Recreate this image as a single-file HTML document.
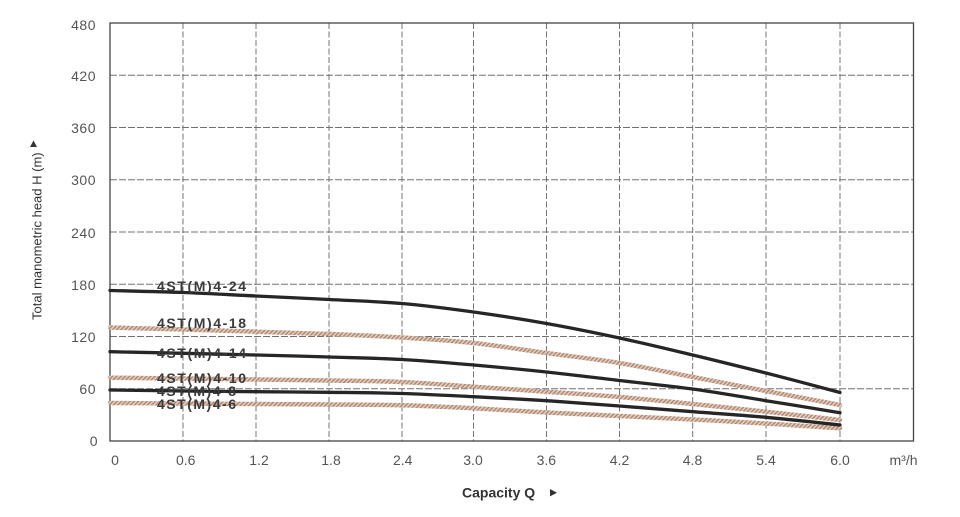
<!DOCTYPE html>
<html>
<head>
<meta charset="utf-8">
<style>
  html, body { margin:0; padding:0; background:#ffffff; }
  body { width:960px; height:517px; overflow:hidden; }
  svg { display:block; }
  text { font-family: "Liberation Sans", Arial, sans-serif; }
</style>
</head>
<body>
<svg width="960" height="517" viewBox="0 0 960 517" xmlns="http://www.w3.org/2000/svg">
  <defs>
    <pattern id="hatch" width="3" height="3" patternUnits="userSpaceOnUse" patternTransform="rotate(45)">
      <rect width="3" height="3" fill="#e4cbba"/>
      <rect width="1.3" height="3" fill="#a8836f"/>
    </pattern>
  </defs>
  <rect width="960" height="517" fill="#ffffff"/>

  <!-- horizontal dashed grid -->
  <g stroke="#707070" stroke-width="0.9" stroke-dasharray="7 2" fill="none">
    <line x1="110" y1="75.25" x2="913.5" y2="75.25"/>
    <line x1="110" y1="127.5" x2="913.5" y2="127.5"/>
    <line x1="110" y1="179.75" x2="913.5" y2="179.75"/>
    <line x1="110" y1="232" x2="913.5" y2="232"/>
    <line x1="110" y1="284.25" x2="913.5" y2="284.25"/>
    <line x1="110" y1="336.5" x2="913.5" y2="336.5"/>
    <line x1="110" y1="388.75" x2="913.5" y2="388.75"/>
  </g>
  <!-- vertical dashed grid -->
  <g stroke="#666" stroke-width="0.9" stroke-dasharray="6 2.5" fill="none">
    <line x1="183" y1="23" x2="183" y2="441"/>
    <line x1="256" y1="23" x2="256" y2="441"/>
    <line x1="329" y1="23" x2="329" y2="441"/>
    <line x1="402" y1="23" x2="402" y2="441"/>
    <line x1="473.5" y1="23" x2="473.5" y2="441"/>
    <line x1="546.5" y1="23" x2="546.5" y2="441"/>
    <line x1="619.5" y1="23" x2="619.5" y2="441"/>
    <line x1="692.7" y1="23" x2="692.7" y2="441"/>
    <line x1="766" y1="23" x2="766" y2="441"/>
    <line x1="840" y1="23" x2="840" y2="441"/>
  </g>
  <!-- frame -->
  <rect x="110" y="23" width="803.5" height="418" fill="none" stroke="#444" stroke-width="1.3"/>

  <!-- curves: tan (hatched) -->
  <g fill="none" stroke="url(#hatch)" stroke-width="4.5" stroke-linejoin="round" stroke-linecap="round">
    <!-- 4-18 -->
    <path d="M110,327.5 C122.17,327.83 158.67,328.8 183,329.5 S231.67,330.95 256,331.7 S304.67,333.03 329,334 S377.92,336 402,337.5 S449.42,340.42 473.5,343 S522.17,349.67 546.5,353 S595.13,359 619.5,363 S668.28,372.33 692.7,377 S741.45,386.33 766,391 S827.67,402.67 840,405"/>
    <!-- 4-10 -->
    <path d="M110,377.7 C122.17,377.83 158.67,378.2 183,378.5 S231.67,379.17 256,379.5 S304.67,380.08 329,380.5 S377.92,380.97 402,382 S449.42,385.08 473.5,386.7 S522.17,389.98 546.5,391.7 S595.13,394.95 619.5,397 S668.28,401.55 692.7,404 S741.45,409.03 766,411.7 S827.67,418.62 840,420"/>
    <!-- 4-6 -->
    <path d="M110,403 C122.17,403.08 158.67,403.33 183,403.5 S231.67,403.83 256,404 S304.67,404.28 329,404.5 S377.92,404.67 402,405.3 S449.42,407.1 473.5,408.3 S522.17,411.22 546.5,412.5 S595.13,414.83 619.5,416 S668.28,418.25 692.7,419.5 S741.45,422.03 766,423.5 S827.67,427.5 840,428.3"/>
  </g>
  <!-- curves: black -->
  <g fill="none" stroke="#262626" stroke-width="3.3" stroke-linejoin="round" stroke-linecap="round">
    <!-- 4-24 -->
    <path d="M110,290.5 C122.17,290.83 158.67,291.58 183,292.5 S231.67,294.83 256,296 S304.67,298.25 329,299.5 S377.92,301.42 402,303.5 S449.42,308.67 473.5,312 S522.17,319.17 546.5,323.5 S595.13,332.75 619.5,338 S668.28,349.17 692.7,355 S741.45,366.75 766,373 S827.67,389.25 840,392.5"/>
    <!-- 4-14 -->
    <path d="M110,351.7 C122.17,351.97 158.67,352.75 183,353.3 S231.67,354.38 256,355 S304.67,356.25 329,357 S377.92,358.17 402,359.5 S449.42,362.92 473.5,365 S522.17,369.42 546.5,372 S595.13,377.67 619.5,380.5 S668.28,385.63 692.7,389 S741.45,396.75 766,400.7 S827.67,410.7 840,412.7"/>
    <!-- 4-8 -->
    <path d="M110,390 C122.17,390.17 158.67,390.72 183,391 S231.67,391.48 256,391.7 S304.67,392 329,392.3 S377.92,392.77 402,393.5 S449.42,395.5 473.5,396.7 S522.17,399.15 546.5,400.7 S595.13,404.17 619.5,406 S668.28,409.82 692.7,411.7 S741.45,415.08 766,417.3 S827.67,423.72 840,425"/>
  </g>

  <!-- series labels -->
  <g font-size="14" font-weight="bold" fill="#3a3a3a">
    <text x="157" y="291" textLength="89" lengthAdjust="spacing">4ST(M)4-24</text>
    <text x="157" y="328" textLength="89" lengthAdjust="spacing">4ST(M)4-18</text>
    <text x="157" y="358" textLength="89" lengthAdjust="spacing">4ST(M)4-14</text>
    <text x="157" y="383" textLength="89" lengthAdjust="spacing">4ST(M)4-10</text>
    <text x="157" y="396" textLength="79" lengthAdjust="spacing">4ST(M)4-8</text>
    <text x="157" y="409" textLength="79" lengthAdjust="spacing">4ST(M)4-6</text>
  </g>

  <!-- y tick labels -->
  <g font-size="14" fill="#555" text-anchor="end" letter-spacing="0.5">
    <text x="96" y="30">480</text>
    <text x="96" y="81">420</text>
    <text x="96" y="133">360</text>
    <text x="96" y="185">300</text>
    <text x="96" y="238">240</text>
    <text x="96" y="290">180</text>
    <text x="96" y="342">120</text>
    <text x="96" y="394">60</text>
    <text x="98" y="446">0</text>
  </g>

  <!-- x tick labels -->
  <g font-size="14" fill="#555" text-anchor="middle">
    <text x="115" y="465">0</text>
    <text x="185.7" y="465">0.6</text>
    <text x="259" y="465">1.2</text>
    <text x="331" y="465">1.8</text>
    <text x="402.7" y="465">2.4</text>
    <text x="473" y="465">3.0</text>
    <text x="546.3" y="465">3.6</text>
    <text x="619.5" y="465">4.2</text>
    <text x="692.5" y="465">4.8</text>
    <text x="766" y="465">5.4</text>
    <text x="840" y="465">6.0</text>
    <text x="903.5" y="465">m³/h</text>
  </g>

  <!-- x axis title -->
  <text x="462" y="497.5" font-size="14" font-weight="bold" fill="#333">Capacity Q</text>
  <polygon points="550,489 557,492.7 550,496.4" fill="#333"/>

  <!-- y axis title -->
  <text transform="translate(41.5,320) rotate(-90)" font-size="13" fill="#333">Total manometric head H (m)</text>
  <polygon points="30,147 37,147 33.5,140.5" fill="#333"/>
</svg>
</body>
</html>
